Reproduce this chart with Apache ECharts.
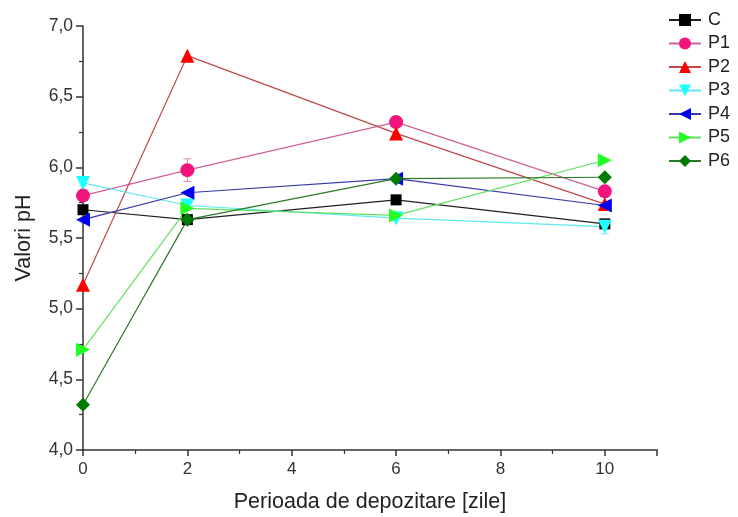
<!DOCTYPE html>
<html><head><meta charset="utf-8">
<script src="https://cdn.jsdelivr.net/npm/echarts@6/dist/echarts.min.js"></script>
<style>html,body{margin:0;padding:0;background:#fff}#c{width:738px;height:517px}</style>
</head><body><div id="c"></div>
<script>
const days = [0, 2, 6, 10];
const seriesNames = ['C','P1','P2','P3','P4','P5','P6'];
const C  = [5.70, 5.63, 5.77, 5.60];
const P1 = [5.80, 5.98, 6.32, 5.83];
const P2 = [5.17, 6.79, 6.24, 5.74];
const P3 = [5.89, 5.73, 5.64, 5.58];
const P4 = [5.63, 5.82, 5.92, 5.73];
const P5 = [4.71, 5.71, 5.66, 6.05];
const P6 = [4.32, 5.63, 5.92, 5.93];
const P1err = [0.02, 0.08, 0.03, 0.03];
const P3err = [0.02, 0.03, 0.02, 0.05];

const values = [C,P1,P2,P3,P4,P5,P6];
const markerColors = ['#000000','#f0147c','#ff0000','#1fffff','#0000ee','#22ff22','#007a00'];
const lineColors   = ['#202020','#d0609a','#c04848','#60e8ee','#3838a8','#60e060','#2a7a2a'];
const symbols = ['rect','circle','triangle','triangle','triangle','triangle','diamond'];
const rotates = [0,0,0,180,90,-90,0];
const sizes = [11,14,14,14,14,14,14];

const series = [];
function errSeries(vals, errs, color){
  return {
    type:'custom', silent:true, z:1,
    data: days.map((d,i)=>[d, vals[i]-errs[i], vals[i]+errs[i]]),
    renderItem:(params, api)=>{
      const lo = api.coord([api.value(0), api.value(1)]);
      const hi = api.coord([api.value(0), api.value(2)]);
      const w = 4;
      return {type:'group', children:[
        {type:'line', shape:{x1:lo[0],y1:lo[1],x2:hi[0],y2:hi[1]}, style:{stroke:color,lineWidth:1}},
        {type:'line', shape:{x1:lo[0]-w,y1:lo[1],x2:lo[0]+w,y2:lo[1]}, style:{stroke:color,lineWidth:1}},
        {type:'line', shape:{x1:hi[0]-w,y1:hi[1],x2:hi[0]+w,y2:hi[1]}, style:{stroke:color,lineWidth:1}}
      ]};
    }
  };
}
series.push(errSeries(P1, P1err, '#d090b0'));
series.push(errSeries(P3, P3err, '#90e0e8'));
seriesNames.forEach((n,i)=>{
  series.push({
    name:n, type:'line', z:2,
    data: days.map((d,j)=>[d, values[i][j]]),
    symbol: symbols[i], symbolSize: sizes[i], symbolRotate: rotates[i],
    itemStyle:{color:markerColors[i]},
    lineStyle:{color:lineColors[i], width:1.2},
    emphasis:{disabled:true}
  });
});

const chart = echarts.init(document.getElementById('c'));
chart.setOption({
  animation:false,
  textStyle:{fontFamily:'Liberation Sans, Arial, sans-serif'},
  grid:{left:83, right:81, top:26, bottom:67, containLabel:false, outerBoundsMode:'none'},
  legend:{
    orient:'vertical', left:663, top:6, itemGap:5.5, itemWidth:32, itemHeight:15,
    textStyle:{fontSize:18, color:'#222', padding:[0,0,0,2]},
    data: seriesNames
  },
  xAxis:{
    type:'value', min:0, max:11, interval:2,
    name:'Perioada de depozitare [zile]', nameLocation:'middle', nameGap:41,
    nameTextStyle:{fontSize:21.5, color:'#222'},
    axisLine:{show:true, onZero:false, lineStyle:{color:'#333', width:1.5}},
    axisTick:{show:true, length:6, lineStyle:{color:'#333', width:1.5}},
    minorTick:{show:true, splitNumber:2, length:4, lineStyle:{color:'#333', width:1.2}},
    axisLabel:{fontSize:17, color:'#333', margin:11, showMaxLabel:false,
      formatter:(v)=> v===11 ? '' : String(v)},
    splitLine:{show:false}
  },
  yAxis:{
    type:'value', min:4, max:7, interval:0.5,
    name:'Valori pH', nameLocation:'middle', nameGap:48,
    nameTextStyle:{fontSize:21.5, color:'#222'},
    axisLine:{show:true, lineStyle:{color:'#333', width:1.5}},
    axisTick:{show:true, length:7, lineStyle:{color:'#333', width:1.5}},
    minorTick:{show:true, splitNumber:2, length:4, lineStyle:{color:'#333', width:1.2}},
    axisLabel:{fontSize:17.5, color:'#333', margin:10,
      formatter:(v)=> v.toFixed(1).replace('.', ',')},
    splitLine:{show:false}
  },
  series: series
});
</script>
</body></html>
